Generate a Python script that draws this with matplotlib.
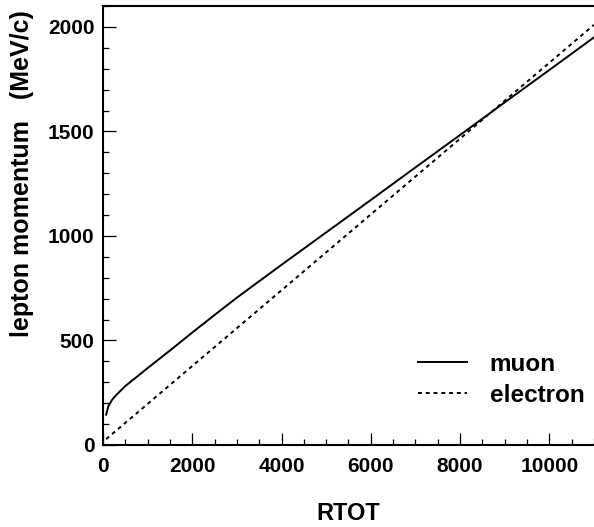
import matplotlib
matplotlib.use("Agg")
import matplotlib.pyplot as plt
from matplotlib.ticker import MultipleLocator

plt.rcParams['font.family'] = ['Liberation Sans', 'DejaVu Sans']
plt.rcParams['font.weight'] = 'bold'

# lepton momentum vs RTOT
rtot_muon = [70, 120, 200, 300, 500, 1000, 1500, 2000, 2500, 3000, 4000,
             5000, 6000, 7000, 8000, 9000, 10000, 11000]
p_muon = [145, 185, 215, 240, 282, 368, 452, 538, 622, 705, 862,
          1017, 1172, 1328, 1483, 1639, 1794, 1950]

rtot_electron = [70, 3000, 6000, 9000, 11000]
p_electron = [28, 559, 1103, 1647, 2010]

fig = plt.figure(figsize=(5.94, 5.27), dpi=100)
ax = fig.add_axes([103 / 594, 82 / 527, 491 / 594, 439 / 527])

ax.plot(rtot_muon, p_muon, color='black', lw=1.4, label='muon')
ax.plot(rtot_electron, p_electron, color='black', lw=1.4,
        linestyle=(0, (2, 2)), label='electron')

ax.set_xlim(0, 11000)
ax.set_ylim(0, 2100)
ax.xaxis.set_major_locator(MultipleLocator(2000))
ax.xaxis.set_minor_locator(MultipleLocator(500))
ax.yaxis.set_major_locator(MultipleLocator(500))
ax.yaxis.set_minor_locator(MultipleLocator(100))

ax.tick_params(which='both', direction='in', width=0.9, labelsize=15)
ax.tick_params(which='major', length=9)
ax.tick_params(which='minor', length=4.5)
ax.tick_params(axis='x', pad=9)
ax.tick_params(axis='y', pad=6)
for lab in ax.get_xticklabels() + ax.get_yticklabels():
    lab.set_fontweight('bold')

for side in ['left', 'bottom', 'top']:
    ax.spines[side].set_linewidth(1.5)
ax.spines['right'].set_visible(False)

fig.text(0.5 * (103 + 594) / 594, 1 - 520 / 527, 'RTOT', ha='center',
         va='baseline', fontsize=17, fontweight='bold')
fig.text(22 / 594, 1 - 10 / 527, 'lepton momentum   (MeV/c)', rotation=90,
         ha='center', va='top', fontsize=18, fontweight='bold')

ax.legend(loc='upper left', bbox_to_anchor=(418 / 594, 1 - 353 / 527),
          bbox_transform=fig.transFigure, frameon=False,
          handlelength=2.0, handletextpad=0.95, labelspacing=0.32,
          borderpad=0, borderaxespad=0, prop={'weight': 'bold', 'size': 17.5})

fig.savefig('out.png', dpi=100)
